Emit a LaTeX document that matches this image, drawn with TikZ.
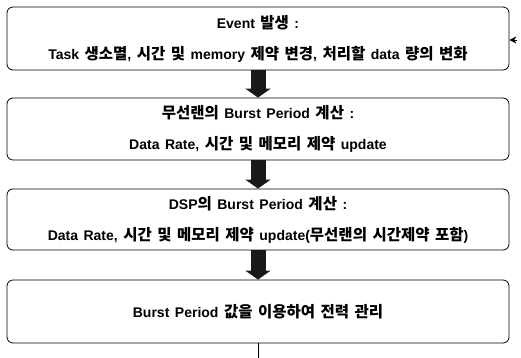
\documentclass[tikz,border=0pt]{standalone}
\usepackage{fontspec}
\setmainfont{Liberation Sans}
\newfontfamily\krfont{Noto Sans CJK KR}
\newcommand\K[1]{{\krfont\bfseries\fontsize{15.5}{31}\selectfont #1}}
\newcommand\widesp{\spaceskip=5.5pt plus 1pt\relax}
\usetikzlibrary{arrows.meta}
\begin{document}
\begin{tikzpicture}[x=1pt,y=-1pt,
  box/.style={draw=black, line width=0.8pt, rounded corners=6pt, minimum width=502pt, inner sep=0pt},
  txt/.style={font=\bfseries\fontsize{14}{31}\selectfont, align=center, execute at begin node={\widesp}},
  blockarrow/.style={line width=15pt, color=black!90, -{Triangle[width=25pt,length=9pt]}},
  thin/.style={line width=0.9pt}]
\useasboundingbox (0,0) rectangle (521,358);
\node[box, minimum height=63pt] (b1) at (258,38.5) {};
\node[txt] (t1) at (258,38.5) {Event \K{발생} :\\Task \K{생소멸}, \K{시간 및} memory \K{제약 변경}, \K{처리할} data \K{량의 변화}};
\node[box, minimum height=62pt] (b2) at (258,129) {};
\node[txt] (t2) at (258,129) {\K{무선랜의} Burst Period \K{계산} :\\Data Rate, \K{시간 및 메모리 제약} update};
\node[box, minimum height=61pt] (b3) at (258,219.5) {};
\node[txt] (t3) at (258,219.5) {DSP\K{의} Burst Period \K{계산} :\\Data Rate, \K{시간 및 메모리 제약} update(\K{무선랜의 시간제약 포함})};
\node[box, minimum height=63pt] (b4) at (258,311.5) {};
\node[txt] (t4) at (258,311.5) {Burst Period \K{값을 이용하여 전력 관리}};
\draw[blockarrow] (b1.south) -- (b2.north);
\draw[blockarrow] (b2.south) -- (b3.north);
\draw[blockarrow] (b3.south) -- (b4.north);
\coordinate (out) at (258,358);
\draw[thin] (b4.south) -- (out);
\coordinate (fb) at (517,40);
\draw[thin, -{Stealth[length=7pt,width=7pt]}] (fb) -- (b1.east |- fb);
\end{tikzpicture}
\end{document}
